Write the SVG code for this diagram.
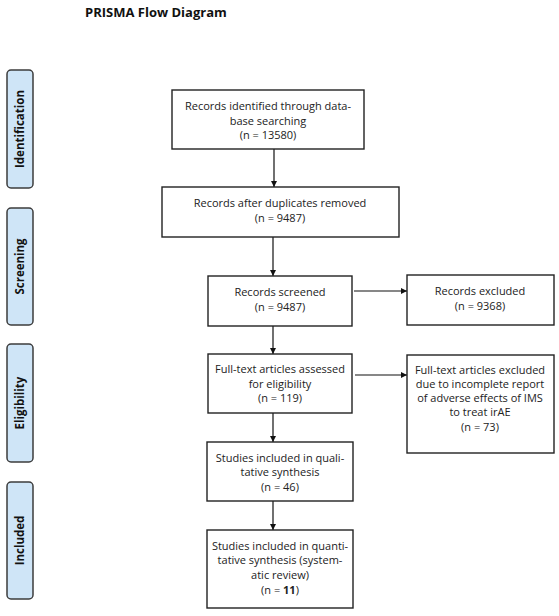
<svg xmlns="http://www.w3.org/2000/svg" width="559" height="616" viewBox="0 0 559 616">
<defs>
<marker id="ah" viewBox="0 0 10 10" refX="10" refY="5" markerWidth="6" markerHeight="6" orient="auto" markerUnits="userSpaceOnUse">
<path d="M0,0 L10,5 L0,10 z" fill="#111"/>
</marker>
<style>
.bx{fill:#fff;stroke:#222;stroke-width:1.4}
.side{fill:#cfe5f7;stroke:#3c3c3c;stroke-width:1.5}
.t{font-family:"Open Sans","Liberation Sans",sans-serif;font-size:11px;fill:#222;text-anchor:middle}
.sl{font-family:"Open Sans","Liberation Sans",sans-serif;font-size:11.5px;font-weight:bold;fill:#111;text-anchor:middle}
.title{font-family:"Open Sans","Liberation Sans",sans-serif;font-size:13px;font-weight:bold;fill:#111}
.ln{stroke:#111;stroke-width:1.2;fill:none;marker-end:url(#ah)}
</style>
</defs>
<rect width="559" height="616" fill="#fff"/>
<text class="title" x="85" y="17">PRISMA Flow Diagram</text>

<g id="side-identification"><rect class="side" x="7" y="70" width="26" height="118" rx="4"/><text class="sl" transform="translate(24,129) rotate(-90)">Identification</text></g>
<g id="side-screening"><rect class="side" x="7" y="208" width="26" height="117" rx="4"/><text class="sl" transform="translate(24,266.5) rotate(-90)">Screening</text></g>
<g id="side-eligibility"><rect class="side" x="7" y="344" width="26" height="118" rx="4"/><text class="sl" transform="translate(24,403) rotate(-90)">Eligibility</text></g>
<g id="side-included"><rect class="side" x="7" y="482" width="26" height="117" rx="4"/><text class="sl" transform="translate(24,540.5) rotate(-90)">Included</text></g>

<g id="connectors">
<line class="ln" x1="274" y1="149" x2="274" y2="187"/>
<line class="ln" x1="273" y1="237" x2="273" y2="276"/>
<line class="ln" x1="273" y1="326" x2="273" y2="354"/>
<line class="ln" x1="273" y1="413" x2="273" y2="442"/>
<line class="ln" x1="273" y1="501" x2="273" y2="530"/>
<line class="ln" x1="354" y1="291" x2="407" y2="291"/>
<line class="ln" x1="355" y1="375" x2="407" y2="375"/>
</g>

<g id="n-identified"><rect class="bx" x="172" y="90" width="192" height="59"/>
<text class="t" x="268" y="110">Records identified through data-</text>
<text class="t" x="268" y="125">base searching</text>
<text class="t" x="268" y="139">(n = 13580)</text></g>

<g id="n-duplicates"><rect class="bx" x="162" y="187" width="237" height="50"/>
<text class="t" x="280" y="207">Records after duplicates removed</text>
<text class="t" x="280" y="222">(n = 9487)</text></g>

<g id="n-screened"><rect class="bx" x="208" y="276" width="144" height="50"/>
<text class="t" x="280" y="296">Records screened</text>
<text class="t" x="280" y="311">(n = 9487)</text></g>

<g id="n-excluded"><rect class="bx" x="407" y="275" width="147" height="50"/>
<text class="t" x="480" y="295">Records excluded</text>
<text class="t" x="480" y="310">(n = 9368)</text></g>

<g id="n-fulltext"><rect class="bx" x="208" y="354" width="144" height="59"/>
<text class="t" x="280" y="373">Full-text articles assessed</text>
<text class="t" x="280" y="388">for eligibility</text>
<text class="t" x="280" y="402">(n = 119)</text></g>

<g id="n-ftexcluded"><rect class="bx" x="407" y="355" width="147" height="98"/>
<text class="t" x="480" y="374">Full-text articles excluded</text>
<text class="t" x="480" y="388">due to incomplete report</text>
<text class="t" x="480" y="402">of adverse effects of IMS</text>
<text class="t" x="480" y="416">to treat irAE</text>
<text class="t" x="480" y="431">(n = 73)</text></g>

<g id="n-qualitative"><rect class="bx" x="207" y="442" width="146" height="59"/>
<text class="t" x="280" y="462">Studies included in quali-</text>
<text class="t" x="280" y="476">tative synthesis</text>
<text class="t" x="280" y="491">(n = 46)</text></g>

<g id="n-quantitative"><rect class="bx" x="207" y="530" width="146" height="78"/>
<text class="t" x="280" y="550">Studies included in quanti-</text>
<text class="t" x="280" y="564">tative synthesis (system-</text>
<text class="t" x="280" y="579">atic review)</text>
<text class="t" x="280" y="594">(n = <tspan font-weight="bold">11</tspan>)</text></g>
</svg>
